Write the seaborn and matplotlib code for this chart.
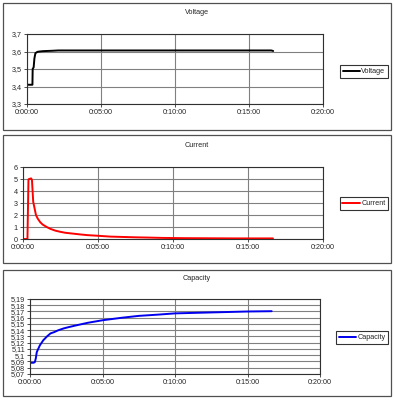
import numpy as np
import pandas as pd
import matplotlib
matplotlib.use("Agg")
import matplotlib.pyplot as plt
import seaborn as sns
from matplotlib.ticker import FuncFormatter, MultipleLocator
from matplotlib.patches import Rectangle

# datos (tiempo en segundos)
t_voltage = [0, 22, 23, 27, 30, 34, 42, 51, 65, 81, 100, 127, 200, 400, 600, 800, 990, 998]
voltage = [3.41, 3.41, 3.50, 3.51, 3.56, 3.59, 3.598, 3.600, 3.602, 3.603, 3.604, 3.606, 3.606,
           3.606, 3.606, 3.606, 3.606, 3.603]

t_current = [0, 19, 21, 23, 25, 34, 37, 42, 48, 53, 60, 70, 80, 96, 110, 130, 150, 170, 200,
             230, 260, 300, 350, 400, 450, 500, 560, 650, 750, 850, 1000]
current = [0, 0, 2.5, 4.95, 5.0, 5.05, 4.9, 3.1, 2.5, 2.0, 1.7, 1.4, 1.2, 1.0, 0.85, 0.7, 0.6,
           0.52, 0.45, 0.38, 0.32, 0.27, 0.2, 0.17, 0.14, 0.12, 0.09, 0.07, 0.06, 0.05, 0.05]

t_capacity = [0, 15, 20, 24, 28, 35, 41, 48, 55, 70, 85, 100, 117, 140, 160, 193, 240, 300,
              380, 450, 530, 600, 700, 800, 900, 1000]
capacity = [5.088, 5.088, 5.089, 5.095, 5.105, 5.111, 5.116, 5.120, 5.124, 5.130, 5.135, 5.137,
            5.140, 5.143, 5.145, 5.148, 5.152, 5.156, 5.160, 5.163, 5.165, 5.167, 5.168, 5.169,
            5.170, 5.1705]

tick_pos = [0, 300, 600, 900, 1200]

sns.set_style("white")
plt.rcParams['font.family'] = ['Liberation Sans', 'DejaVu Sans']

fig = plt.figure(figsize=(3.94, 4.0), dpi=100)
W, H = 394, 400


def fmt_time(s, pos=None):
    s = int(round(s))
    return f"{s // 3600}:{s % 3600 // 60:02d}:{s % 60:02d}"


def fmt_comma(nd):
    # formato "general" de Excel: coma decimal, sin ceros al final
    def f(v, p):
        txt = f"{v:.{nd}f}"
        if "." in txt:
            txt = txt.rstrip("0").rstrip(".")
        return txt.replace(".", ",")
    return FuncFormatter(f)


# paneles: (caja, ejes, titulo y, leyenda y)
paneles = [
    dict(box=(3, 3, 391, 130), ax=(27, 34, 323, 104), ty=13, ly=71.5,
         t=t_voltage, y=voltage, color="black", label="Voltage",
         ylim=(3.3, 3.7), step=0.1, nd=1, lw=(342, 388)),
    dict(box=(3, 135, 391, 263), ax=(22.7, 167, 323, 239), ty=145, ly=203.5,
         t=t_current, y=current, color="red", label="Current",
         ylim=(0, 6), step=1, nd=0, lw=(343, 388)),
    dict(box=(3, 270, 391, 396), ax=(30, 299, 320, 374), ty=279, ly=337.5,
         t=t_capacity, y=capacity, color="#0000ee", label="Capacity",
         ylim=(5.07, 5.19), step=0.01, nd=2, lw=(342, 388)),
]

for p in paneles:
    x0, y0, x1, y1 = p["box"]
    fig.add_artist(Rectangle((x0 / W, 1 - y1 / H), (x1 - x0) / W, (y1 - y0) / H,
                             transform=fig.transFigure, fill=False,
                             edgecolor="#505050", linewidth=0.9))
    a0, b0, a1, b1 = p["ax"]
    ax = fig.add_axes([a0 / W, 1 - b1 / H, (a1 - a0) / W, (b1 - b0) / H])
    df = pd.DataFrame({"t": p["t"], "v": p["y"]})
    sns.lineplot(data=df, x="t", y="v", ax=ax, color=p["color"], linewidth=1.4,
                 label=p["label"])
    ax.set_xlim(0, 1200)
    ax.set_ylim(*p["ylim"])
    ax.set_xticks(tick_pos)
    ax.xaxis.set_major_formatter(FuncFormatter(fmt_time))
    ax.yaxis.set_major_locator(MultipleLocator(p["step"]))
    ax.yaxis.set_major_formatter(fmt_comma(p["nd"]))
    ax.grid(True, color="#808080", linewidth=0.8)
    ax.set_axisbelow(True)
    for sp in ax.spines.values():
        sp.set_color("#303030")
        sp.set_linewidth(0.8)
    ax.tick_params(labelsize=5.2, length=2, width=0.6, pad=1.5, direction="out",
                   bottom=True, left=True, color="#303030")
    ax.set_xlabel("")
    ax.set_ylabel("")
    fig.text(0.5, 1 - p["ty"] / H, p["label"], ha="center", va="center", fontsize=5.2)
    leg = ax.legend(loc="center right", bbox_to_anchor=(p["lw"][1] / W, 1 - p["ly"] / H),
                    bbox_transform=fig.transFigure, fontsize=5.2, frameon=True,
                    fancybox=False, edgecolor="black", handlelength=2.4,
                    handletextpad=0.2, borderpad=0.35, borderaxespad=0)
    leg.get_frame().set_linewidth(0.8)

fig.savefig("out.png", dpi=100)
